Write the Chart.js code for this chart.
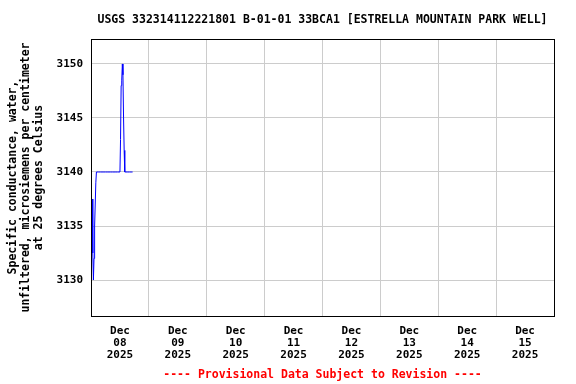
<!DOCTYPE html>
<html>
<head>
<meta charset="utf-8">
<script src="https://cdn.jsdelivr.net/npm/chart.js@4/dist/chart.umd.min.js"></script>
<style>
  html, body { margin: 0; padding: 0; background: #ffffff; }
  #wrap { width: 576px; height: 384px; }
</style>
</head>
<body>
<div id="wrap"><canvas id="c" width="576" height="384"></canvas></div>
<script>
// ---- Data (hours since Dec 08 2025 00:00) ----
const sampleHours = [0.5, 0.75, 1.0, 1.25, 1.5, 2.0, 2.25,
  3, 4, 5, 6, 7, 8, 9, 10, 11, 12,
  12.25, 12.5, 12.75, 13, 13.25, 13.5, 13.75, 14,
  15, 16, 17, 17.25];
const conductance = [3137.5, 3132.5, 3130, 3132, 3135, 3139, 3140,
  3140, 3140, 3140, 3140, 3140, 3140, 3140, 3140, 3140, 3140,
  3143, 3148, 3148.5, 3150, 3149, 3145, 3142, 3140,
  3140, 3140, 3140, 3140];

// ---- Axis ticks ----
const tickMonth = "Dec";
const tickDays = ["08", "09", "10", "11", "12", "13", "14", "15"];
const tickYear = "2025";
const tickHours = [12, 36, 60, 84, 108, 132, 156, 180];
const yTicks = [3130, 3135, 3140, 3145, 3150];

const titleText = "USGS 332314112221801 B-01-01 33BCA1 [ESTRELLA MOUNTAIN PARK WELL]";
const yTitle = ["Specific conductance, water,", "unfiltered, microsiemens per centimeter", "at 25 degrees Celsius"];
const footerText = "---- Provisional Data Subject to Revision ----";

const FONT = "'DejaVu Sans Mono', 'Liberation Mono', monospace";

const points = sampleHours.map((h, i) => ({ x: h, y: conductance[i] }));

const frame = {
  id: 'frame',
  beforeDraw(chart) {
    const ctx = chart.ctx;
    ctx.save();
    ctx.fillStyle = '#ffffff';
    ctx.fillRect(0, 0, chart.width, chart.height);
    ctx.restore();
  },
  afterDraw(chart) {
    const a = chart.chartArea;
    const ctx = chart.ctx;
    ctx.save();
    ctx.strokeStyle = '#000000';
    ctx.lineWidth = 1;
    const l = Math.round(a.left) + 0.5, t = Math.round(a.top) + 0.5;
    const r = Math.round(a.right) + 0.5, b = Math.round(a.bottom) + 0.5;
    ctx.strokeRect(l, t, r - l, b - t);
    ctx.restore();
  }
};

new Chart(document.getElementById('c'), {
  type: 'line',
  data: {
    datasets: [{
      data: points,
      borderColor: '#0000ff',
      borderWidth: 1,
      pointRadius: 0,
      tension: 0,
      fill: false
    }]
  },
  options: {
    responsive: false,
    animation: false,
    events: [],
    layout: { padding: { top: 0, left: 0, right: 22, bottom: 0 } },
    plugins: {
      legend: { display: false },
      tooltip: { enabled: false },
      title: {
        display: true,
        text: titleText,
        color: '#000000',
        fullSize: false,
        font: { family: FONT, size: 11.5, weight: 'bold', lineHeight: '14px' },
        padding: { top: 13, bottom: 12 }
      },
      subtitle: {
        display: true,
        position: 'bottom',
        text: footerText,
        color: '#ff0000',
        fullSize: false,
        font: { family: FONT, size: 11.5, weight: 'bold', lineHeight: '13px' },
        padding: { top: 3, bottom: 2 }
      }
    },
    scales: {
      x: {
        type: 'linear',
        min: 0,
        max: 192,
        border: { display: false },
        grid: { color: '#cccccc', lineWidth: 1, drawTicks: false, offset: true },
        afterBuildTicks(scale) { scale.ticks = tickHours.map(v => ({ value: v })); },
        afterFit(scale) { scale.height = 50; },
        ticks: {
          autoSkip: false,
          maxRotation: 0,
          minRotation: 0,
          padding: 9,
          color: '#000000',
          font: { family: FONT, size: 11, weight: 'bold', lineHeight: '12px' },
          callback: (v, i) => [tickMonth, tickDays[i], tickYear]
        }
      },
      y: {
        type: 'linear',
        min: 3126.67,
        max: 3152.31,
        border: { display: false },
        grid: { color: '#cccccc', lineWidth: 1, drawTicks: false },
        afterBuildTicks(scale) { scale.ticks = yTicks.map(v => ({ value: v })); },
        afterFit(scale) { scale.width = 91; },
        ticks: {
          padding: 8,
          color: '#000000',
          font: { family: FONT, size: 11, weight: 'bold' },
          callback: (v) => String(v)
        },
        title: {
          display: true,
          text: yTitle,
          color: '#000000',
          font: { family: FONT, size: 11.5, weight: 'bold', lineHeight: '13px' },
          padding: { top: 6.5, bottom: 0 }
        }
      }
    }
  },
  plugins: [frame]
});
</script>
</body>
</html>
